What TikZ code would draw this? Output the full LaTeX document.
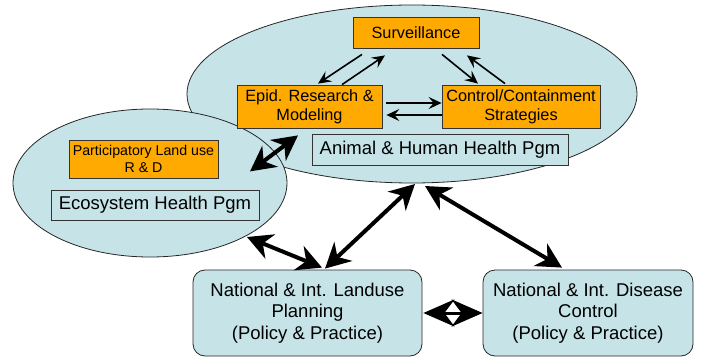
\documentclass[tikz,border=0pt]{standalone}
\usepackage{fontspec}
\setmainfont{Liberation Sans}
\usetikzlibrary{shapes.geometric,arrows.meta}
\definecolor{pale}{RGB}{198,228,232}
\definecolor{orng}{RGB}{255,170,0}
\tikzset{
  ell/.style={ellipse,draw=black!85,fill=pale,line width=0.8pt,inner sep=0pt},
  obox/.style={draw=black!80,fill=orng,line width=0.8pt,inner sep=0pt,align=center,font=\fontsize{16.3}{19}\selectfont},
  pbox/.style={draw=black!80,fill=pale,line width=0.8pt,inner sep=0pt,align=center,font=\fontsize{18.5}{22}\selectfont},
  rbox/.style={draw=black!85,fill=pale,line width=0.8pt,rounded corners=12pt,inner sep=0pt,align=center,font=\fontsize{18.5}{21.7}\selectfont},
  tharr/.style={line width=1.6pt,-{Stealth[length=13pt,width=12pt,inset=5pt]}},
  thick2/.style={line width=4pt,{Stealth[length=25pt,width=26pt,inset=8pt]}-{Stealth[length=25pt,width=26pt,inset=8pt]}},
  horiz2/.style={line width=3pt,{Stealth[length=31pt,width=27pt,inset=10pt]}-{Stealth[length=31pt,width=27pt,inset=10pt]}}
}
\begin{document}
\begin{tikzpicture}[x=1pt,y=-1pt]
\useasboundingbox (0,0) rectangle (701,358);
\node[ell,minimum width=450,minimum height=178] (big) at (412,94) {};
\node[ell,minimum width=274,minimum height=148] (small) at (150,183) {};
\node[obox,minimum width=126,minimum height=31] (surv) at (416,32.5) {Surveillance};
\node[obox,minimum width=145,minimum height=43] (epid) at (309.5,106.5) {Epid. Research \&\\Modeling};
\node[obox,minimum width=158,minimum height=43] (ctrl) at (521,106.5) {Control/Containment\\Strategies};
\node[pbox,minimum width=256,minimum height=31] (ahh) at (440,149.5) {Animal \& Human Health Pgm};
\node[obox,minimum width=149,minimum height=38,font=\fontsize{14.2}{16.7}\selectfont] (part) at (143.5,159) {Participatory Land use\\R \& D};
\node[pbox,minimum width=208,minimum height=30] (eco) at (155,205) {Ecosystem Health Pgm};
\node[rbox,minimum width=229,minimum height=86] (land) at (307.5,313) {National \& Int. Landuse\\Planning\\(Policy \& Practice)};
\node[rbox,minimum width=210,minimum height=86] (dis) at (588,313) {National \& Int. Disease\\Control\\(Policy \& Practice)};
% thin arrows
\draw[tharr] ([shift={(-54,6)}]surv.south) -- ([shift={(8.5,-1)}]epid.north);
\draw[tharr] ([shift={(32.5,0)}]epid.north) -- ([shift={(-31,7)}]surv.south);
\draw[tharr] ([shift={(26,6)}]surv.south) -- ([shift={(-43,-1)}]ctrl.north);
\draw[tharr] ([shift={(-16,-1)}]ctrl.north) -- ([shift={(51,7)}]surv.south);
\draw[tharr] ([shift={(4,-3.5)}]epid.east) -- ([shift={(0,-3.5)}]ctrl.west);
\draw[tharr] ([shift={(0,8.5)}]ctrl.west) -- ([shift={(4,8.5)}]epid.east);
% thick arrows
\draw[thick2] ([shift={(-11.5,7)}]epid.south) -- ([shift={(-59.5,43)}]epid.south);
\draw[thick2] ([shift={(97,54)}]small.center) -- ([shift={(14.5,-2)}]land.north);
\draw[thick2] ([shift={(17.5,-1)}]land.north) -- ([shift={(3,90)}]big.center);
\draw[thick2] ([shift={(13,92)}]big.center) -- ([shift={(-26,-2)}]dis.north);
\draw[horiz2] ([shift={(1,0)}]land.east) -- (dis.west);
\end{tikzpicture}
\end{document}
